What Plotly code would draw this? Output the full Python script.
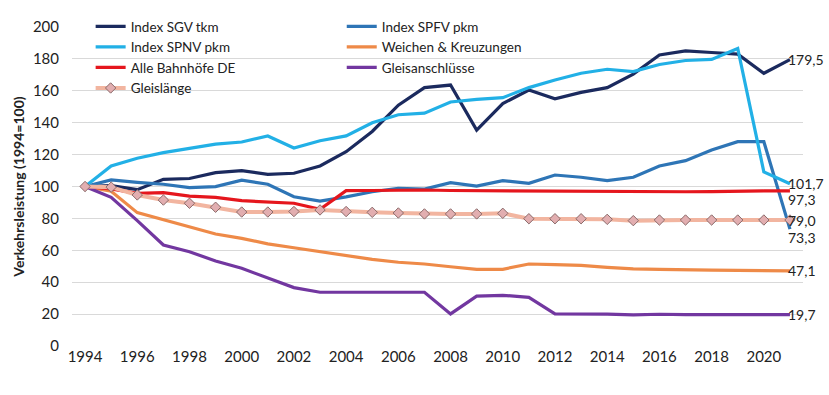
import plotly.graph_objects as go

years = list(range(1994, 2022))

sgv = [100, 100.5, 98, 104.5, 105, 108.7, 109.9, 107.6, 108.3, 112.9, 121.8, 134.5, 151, 162, 163.6, 135.4,
       152, 160.5, 155, 159, 162, 170.5, 182.5, 185, 184, 183, 171, 179.5]
spfv = [100, 104.1, 102.6, 101.4, 99.3, 99.9, 104, 101.4, 93.6, 90.9, 93.5, 96.7, 98.9, 98.4, 102.4, 100.3,
        103.7, 102, 107.2, 105.8, 103.7, 105.8, 112.9, 116.2, 122.9, 128.1, 128.1, 73.3]
spnv = [100, 112.9, 117.7, 121.2, 123.9, 126.6, 127.9, 131.7, 124.1, 128.7, 131.7, 140, 145, 146, 153, 154.6,
        155.7, 162, 166.8, 171, 173.5, 172, 176.5, 179, 179.7, 186.5, 109.2, 101.7]
weichen = [100, 97, 83.6, 79, 74.8, 70.2, 67.5, 64, 61.6, 59.1, 56.4, 54.3, 52.5, 51.4, 49.7, 48.1,
           48.1, 51.4, 51, 50.5, 49.3, 48.4, 48.1, 47.6, 47.6, 47.4, 47.4, 47.1]
bahnhoefe = [100, 98.5, 95.7, 96.1, 94, 93.2, 91.1, 90.5, 89.5, 85.7, 97.4, 97.5, 97.8, 97.8, 97.5, 97.4,
             97.4, 97, 96.7, 96.7, 97, 96.9, 96.7, 96.7, 96.8, 97.2, 97.2, 97.3]
gleisanschl = [100, 93.2, 78.6, 63.3, 59.1, 53.3, 48.7, 42.4, 36.6, 33.7, 33.7, 33.7, 33.7, 33.7, 20.1, 31.3,
               31.8, 30.5, 20.1, 20.1, 20, 19.5, 19.9, 19.7, 19.7, 19.7, 19.7, 19.7]
gleislaenge = [100, 99.6, 94.7, 91.5, 89.5, 87, 84, 84, 84.3, 85.3, 84.3, 83.8, 83.4, 82.8, 82.8, 82.8,
               83.2, 79.8, 79.8, 79.8, 79.4, 78.6, 79, 79, 79, 79, 79, 79.0]

font = "Lato, 'Open Sans', sans-serif"
fig = go.Figure()

def add(name, y, color, legend, width=3.2, **kw):
    fig.add_trace(go.Scatter(x=years, y=y, name=name, mode=kw.pop("mode", "lines"),
                             line=dict(color=color, width=width), legend=legend, **kw))

add("Index SGV tkm", sgv, "#1B2A5E", "legend")
add("Index SPFV pkm", spfv, "#2E75B6", "legend2")
add("Index SPNV pkm", spnv, "#22B0E6", "legend")
add("Weichen & Kreuzungen", weichen, "#EE8A48", "legend2")
add("Alle Bahnhöfe DE", bahnhoefe, "#E5161D", "legend")
add("Gleisanschlüsse", gleisanschl, "#7237A0", "legend2")
add("Gleislänge", gleislaenge, "#F2B5A0", "legend", width=4, mode="lines+markers",
    marker=dict(symbol="diamond", size=8, color="#E2AEB0", line=dict(color="#8A6A6A", width=1)))

def fmt(v):
    return f"{v:.1f}".replace(".", ",")

labels = [(sgv[-1], 0), (spnv[-1], 0), (bahnhoefe[-1], -9), (gleislaenge[-1], 0),
          (spfv[-1], -8), (weichen[-1], 0), (gleisanschl[-1], 0)]
for v, ys in labels:
    fig.add_annotation(x=years[-1], y=v, text=fmt(v), showarrow=False, xanchor="left",
                       xshift=-4, yshift=ys, font=dict(size=14, color="#222222", family=font))

leg_common = dict(orientation="v", xanchor="left", yanchor="top", bgcolor="rgba(0,0,0,0)",
                  font=dict(size=13.5, color="#222222", family=font), tracegroupgap=0,
                  itemwidth=30)

fig.update_layout(
    width=829, height=395,
    margin=dict(l=72, r=26, t=27, b=49, autoexpand=False),
    plot_bgcolor="white", paper_bgcolor="white",
    font=dict(family=font, size=15, color="#222222"),
    legend=dict(x=0.0255, y=1.05, **leg_common),
    legend2=dict(x=0.369, y=1.05, **leg_common),
    xaxis=dict(range=[1993.5, 2021.5], tickmode="linear", tick0=1994, dtick=2,
               showgrid=False, zeroline=False, showline=False, ticks="",
               tickfont=dict(size=15, family=font)),
    yaxis=dict(range=[0, 200], dtick=20, showgrid=True, gridcolor="#D9D9D9", gridwidth=1,
               zeroline=False, showline=False, ticks="", ticklabelstandoff=12,
               tickfont=dict(size=15, family=font),
               title=dict(text="<b>Verkehrsleistung (1994=100)</b>", standoff=4,
                          font=dict(size=14, family=font))),
)

fig.write_html("out.html", config={"displayModeBar": False},
               post_script="document.body.style.margin='0';")
